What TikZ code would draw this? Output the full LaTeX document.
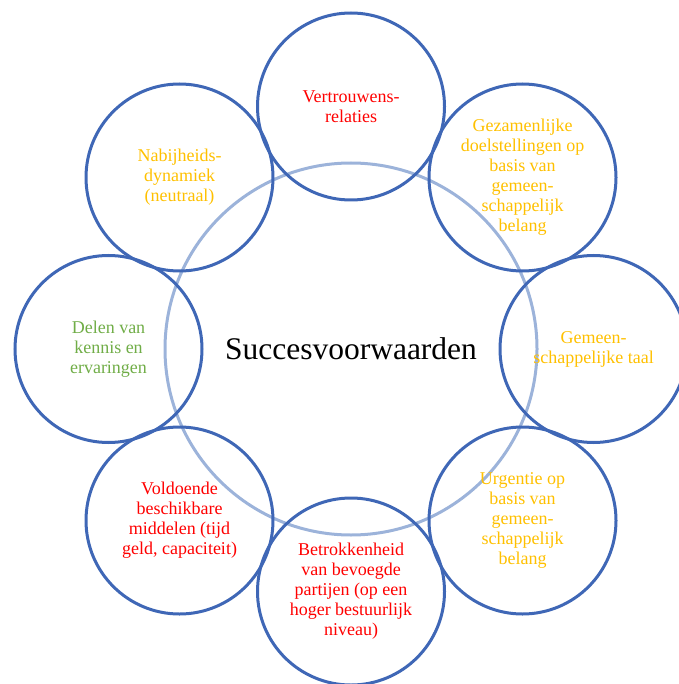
\documentclass[tikz,border=0pt]{standalone}
\usepackage{fontspec}
\setmainfont{Liberation Serif}

\definecolor{ringblue}{HTML}{3F67B6}
\definecolor{hubblue}{HTML}{9CB3DA}
\definecolor{goldtxt}{HTML}{FFC000}
\definecolor{greentxt}{HTML}{70AD47}

\tikzset{
    factor/.style={circle, draw=ringblue, line width=3pt, minimum size=187pt, inner sep=0pt, align=center, font=\fontsize{18}{20}\selectfont},
    hub/.style={circle, draw=hubblue, line width=3pt, minimum size=372pt, inner sep=0pt, font=\fontsize{31.5}{36}\selectfont},
}

\begin{document}
\begin{tikzpicture}[x=1pt, y=-1pt]
                \useasboundingbox (0,0) rectangle (678,684);
                % big light circle in the middle
                \node[hub] (hub) at (351,349) {Succesvoorwaarden};
                % eight factors round it
                \node[factor, text=red] (trust) at (351,106.5) {Vertrouwens-\\relaties};
                \node[factor, text=goldtxt] (goals) at (522.5,177.5) {Gezamenlijke\\doelstellingen op\\basis van\\gemeen-\\schappelijk\\belang};
                \node[factor, text=goldtxt] (lang) at (593.5,349) {Gemeen-\\schappelijke taal};
                \node[factor, text=goldtxt] (urgency) at (522.5,520.5) {Urgentie op\\basis van\\gemeen-\\schappelijk\\belang};
                \node[factor, text=red] (parties) at (351,591.5) {Betrokkenheid\\van bevoegde\\partijen (op een\\hoger bestuurlijk\\niveau)};
                \node[factor, text=red] (means) at (179.5,520.5) {Voldoende\\beschikbare\\middelen (tijd\\geld, capaciteit)};
                \node[factor, text=greentxt] (know) at (108.5,349) {Delen van\\kennis en\\ervaringen};
                \node[factor, text=goldtxt] (near) at (179.5,177.5) {Nabijheids-\\dynamiek\\(neutraal)};
            \end{tikzpicture}
\end{document}
